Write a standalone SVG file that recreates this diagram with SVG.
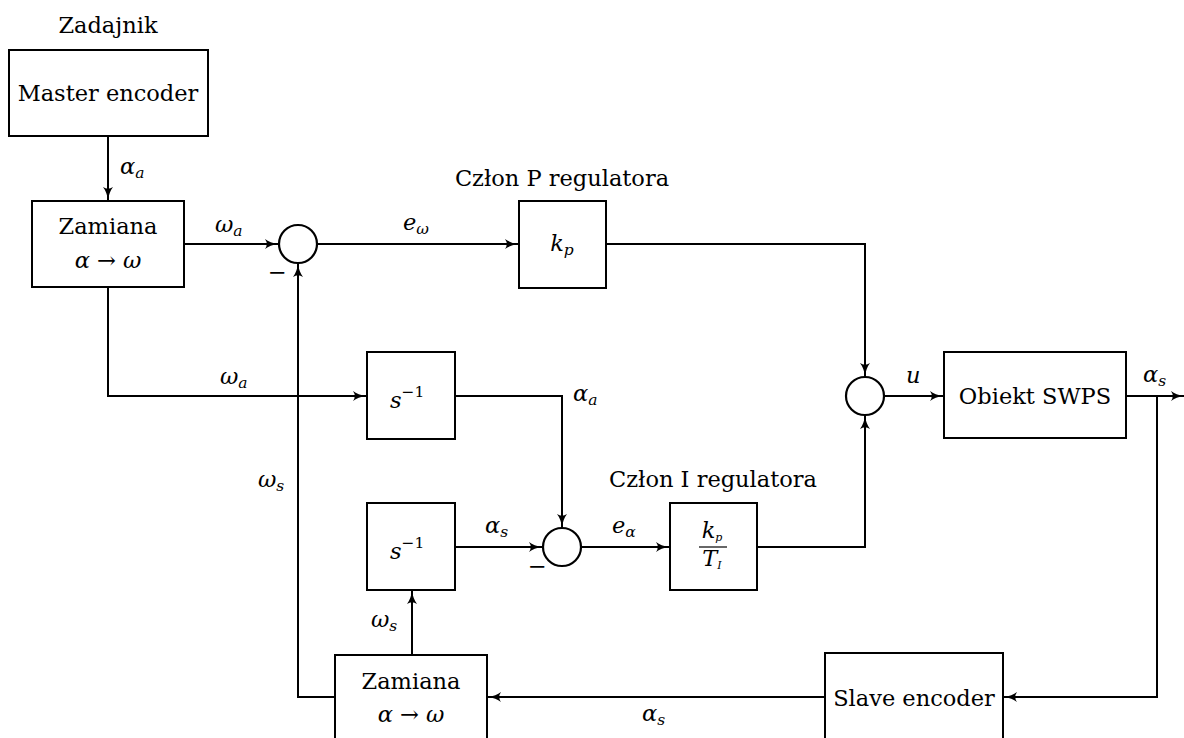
<svg xmlns="http://www.w3.org/2000/svg" width="1184" height="738" viewBox="0 0 1184 738" font-family="DejaVu Serif">
<style>
.box{fill:#fff;stroke:#000;stroke-width:2}
.sum{fill:#fff;stroke:#000;stroke-width:2.2}
.ln{fill:none;stroke:#000;stroke-width:2}
.t{font-size:22.5px}
.m{font-size:22.5px;font-style:italic}
.sub{font-size:15.5px}
.c{text-anchor:middle}
</style>
<defs>
<marker id="ar" viewBox="0 0 14 11" refX="13" refY="5.5" markerWidth="14" markerHeight="11" markerUnits="userSpaceOnUse" orient="auto">
<path d="M0,0.5 Q5,4.3 13,5.5 Q5,6.7 0,10.5 Q3.5,5.5 0,0.5 Z" fill="#000"/>
</marker>
</defs>
<rect width="1184" height="738" fill="#fff"/>
<g id="connectors">
<path class="ln" d="M108,136 V200" marker-end="url(#ar)"/>
<path class="ln" d="M184,244 H278" marker-end="url(#ar)"/>
<path class="ln" d="M317,244 H518" marker-end="url(#ar)"/>
<path class="ln" d="M606,244 H865 V376" marker-end="url(#ar)"/>
<path class="ln" d="M108,287 V396 H366" marker-end="url(#ar)"/>
<path class="ln" d="M455,396 H562 V527" marker-end="url(#ar)"/>
<path class="ln" d="M455,547 H542" marker-end="url(#ar)"/>
<path class="ln" d="M581,547 H669" marker-end="url(#ar)"/>
<path class="ln" d="M757,547 H865 V416" marker-end="url(#ar)"/>
<path class="ln" d="M884,396 H943" marker-end="url(#ar)"/>
<path class="ln" d="M1126,396 H1184" marker-end="url(#ar)"/>
<path class="ln" d="M1157,396 V697 H1004" marker-end="url(#ar)"/>
<path class="ln" d="M825,697 H488" marker-end="url(#ar)"/>
<path class="ln" d="M412,655 V591" marker-end="url(#ar)"/>
<path class="ln" d="M335,697 H298 V264" marker-end="url(#ar)"/>
</g>
<g id="master">
<text class="t c" x="108" y="33">Zadajnik</text>
<rect class="box" x="9" y="50" width="199" height="86"/>
<text class="t c" x="108" y="101">Master encoder</text>
</g>
<g id="zamiana1">
<rect class="box" x="32" y="201" width="152" height="86"/>
<text class="t c" x="108" y="234">Zamiana</text>
<text class="m c" x="108" y="268">α <tspan font-style="normal">→</tspan> ω</text>
</g>
<g id="sum1"><circle class="sum" cx="298" cy="244" r="19"/></g>
<g id="kp">
<text class="t c" x="562" y="186">Człon P regulatora</text>
<rect class="box" x="519" y="201" width="87" height="87"/>
<text class="m c" x="562" y="251">k<tspan class="sub" dy="4">p</tspan></text>
</g>
<g id="int1">
<rect class="box" x="367" y="352" width="88" height="87"/>
<text class="m" x="390" y="408">s<tspan class="sub" font-style="normal" dy="-11">−1</tspan></text>
</g>
<g id="int2">
<rect class="box" x="367" y="503" width="88" height="87"/>
<text class="m" x="390" y="559">s<tspan class="sub" font-style="normal" dy="-11">−1</tspan></text>
</g>
<g id="sum2"><circle class="sum" cx="562" cy="547" r="19"/></g>
<g id="ki">
<text class="t c" x="713" y="487">Człon I regulatora</text>
<rect class="box" x="670" y="503" width="87" height="87"/>
<text class="m c" x="712" y="538" font-size="16">k<tspan font-size="11" dy="3">p</tspan></text>
<line x1="699" y1="547" x2="727" y2="547" stroke="#000" stroke-width="1.2"/>
<text class="m c" x="712" y="566" font-size="16">T<tspan font-size="11" dy="3">I</tspan></text>
</g>
<g id="sum3"><circle class="sum" cx="865" cy="396" r="19"/></g>
<g id="obiekt">
<rect class="box" x="944" y="352" width="182" height="86"/>
<text class="t c" x="1035" y="404">Obiekt SWPS</text>
</g>
<g id="slave">
<rect class="box" x="825" y="653" width="178" height="95"/>
<text class="t c" x="914" y="706">Slave encoder</text>
</g>
<g id="zamiana2">
<rect class="box" x="335" y="655" width="152" height="95"/>
<text class="t c" x="411" y="689">Zamiana</text>
<text class="m c" x="411" y="722">α <tspan font-style="normal">→</tspan> ω</text>
</g>
<g id="labels">
<text class="m" x="120" y="174">α<tspan class="sub" dy="4">a</tspan></text>
<text class="m" x="215" y="232">ω<tspan class="sub" dy="4">a</tspan></text>
<text class="t" x="268" y="280">−</text>
<text class="m" x="403" y="230">e<tspan class="sub" dy="4">ω</tspan></text>
<text class="m" x="220" y="384">ω<tspan class="sub" dy="4">a</tspan></text>
<text class="m" x="573" y="401">α<tspan class="sub" dy="4">a</tspan></text>
<text class="m" x="485" y="533">α<tspan class="sub" dy="4">s</tspan></text>
<text class="t" x="528" y="574">−</text>
<text class="m" x="612" y="533">e<tspan class="sub" dy="4">α</tspan></text>
<text class="m" x="258" y="487">ω<tspan class="sub" dy="4">s</tspan></text>
<text class="m" x="371" y="627">ω<tspan class="sub" dy="4">s</tspan></text>
<text class="m" x="642" y="721">α<tspan class="sub" dy="4">s</tspan></text>
<text class="m" x="906" y="383">u</text>
<text class="m" x="1143" y="382">α<tspan class="sub" dy="4">s</tspan></text>
</g>
</svg>
